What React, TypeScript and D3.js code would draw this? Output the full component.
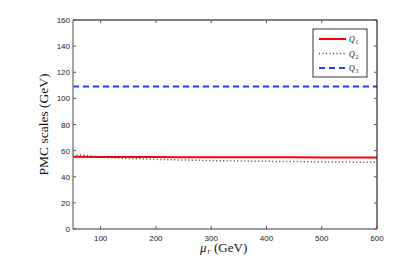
import React from "react";
import * as d3 from "d3";

const muR = [50, 100, 150, 200, 250, 300, 350, 400, 450, 500, 550, 600];
const q1 = [55.3, 55.2, 55.1, 55.1, 55.0, 55.0, 54.9, 54.9, 54.9, 54.8, 54.8, 54.8];
const q2 = [57.2, 55.0, 54.0, 53.3, 52.8, 52.4, 52.1, 51.8, 51.6, 51.4, 51.2, 51.0];
const q3 = [109, 109, 109, 109, 109, 109, 109, 109, 109, 109, 109, 109];
const xTicks = [100, 200, 300, 400, 500, 600];
const yTicks = [0, 20, 40, 60, 80, 100, 120, 140, 160];
const legendLabels = ["1", "2", "3"];

export default function App() {
  const W = 415, H = 259;
  const L = 73, R = 377, T = 20, B = 229;
  const x = d3.scaleLinear().domain([50, 600]).range([L, R]);
  const y = d3.scaleLinear().domain([0, 160]).range([B, T]);
  const line = d3.line<number>().x((_, i) => x(muR[i])).y((d) => y(d));
  const tickFont = "Liberation Sans, Arial, sans-serif";
  const serif = "Liberation Serif, 'Times New Roman', serif";
  const series = [
    { data: q1, color: "#ff0000", dash: "", w: 2 },
    { data: q2, color: "#444", dash: "1,2.5", w: 1.5 },
    { data: q3, color: "#1f3cff", dash: "6,4", w: 2 },
  ];
  const lx = 313, ly = 29, lw = 54, lh = 48;
  return (
    <svg width={W} height={H} style={{ position: "absolute", left: 0, top: 0 }}>
      <rect x={0} y={0} width={W} height={H} fill="#fff" />
      {series.map((s, i) => (
        <path key={i} d={line(s.data) || ""} fill="none" stroke={s.color} strokeWidth={s.w} strokeDasharray={s.dash} />
      ))}
      <line x1={L} x2={R} y1={T} y2={T} stroke="#000" strokeWidth={1} />
      <line x1={R} x2={R} y1={T} y2={B} stroke="#000" strokeWidth={1} />
      <line x1={L} x2={L} y1={T} y2={B} stroke="#777" strokeWidth={1.3} />
      <line x1={L} x2={R} y1={B} y2={B} stroke="#777" strokeWidth={1.3} />
      {yTicks.map((t) => (
        <g key={"y" + t}>
          <line x1={L} x2={L + 3} y1={y(t)} y2={y(t)} stroke="#555" />
          <line x1={R} x2={R - 3} y1={y(t)} y2={y(t)} stroke="#555" />
          <text x={L - 3} y={y(t) + 3} textAnchor="end" fontSize={8} fontFamily={tickFont} fill="#222">{t}</text>
        </g>
      ))}
      {xTicks.map((t) => (
        <g key={"x" + t}>
          <line x1={x(t)} x2={x(t)} y1={B} y2={B - 3} stroke="#555" />
          <line x1={x(t)} x2={x(t)} y1={T} y2={T + 3} stroke="#555" />
          <text x={x(t)} y={B + 12} textAnchor="middle" fontSize={8} fontFamily={tickFont} fill="#222">{t}</text>
        </g>
      ))}
      <text transform={`translate(48,${(T + B) / 2}) rotate(-90)`} textAnchor="middle" fontSize={13.5} fontFamily={serif} fill="#111">PMC scales (GeV)</text>
      <text x={200} y={252} fontSize={13} fontFamily={serif} fontStyle="italic" fill="#111">μ</text>
      <text x={207.5} y={254} fontSize={7.5} fontFamily={serif} fontStyle="italic" fill="#111">r</text>
      <text x={214} y={252} fontSize={13} fontFamily={serif} fill="#111">(GeV)</text>
      <rect x={lx} y={ly} width={lw} height={lh} fill="#fff" stroke="#000" strokeWidth={0.8} />
      {series.map((s, i) => {
        const yy = ly + 10 + i * 14.5;
        return (
          <g key={"l" + i}>
            <line x1={lx + 6} x2={lx + 33} y1={yy} y2={yy} stroke={s.color} strokeWidth={s.w} strokeDasharray={s.dash} />
            <text x={lx + 36} y={yy + 3} fontSize={8} fontFamily={serif} fontStyle="italic" fill="#111">Q</text>
            <text x={lx + 42.5} y={yy + 5} fontSize={5.5} fontFamily={serif} fill="#111">{legendLabels[i]}</text>
          </g>
        );
      })}
    </svg>
  );
}
